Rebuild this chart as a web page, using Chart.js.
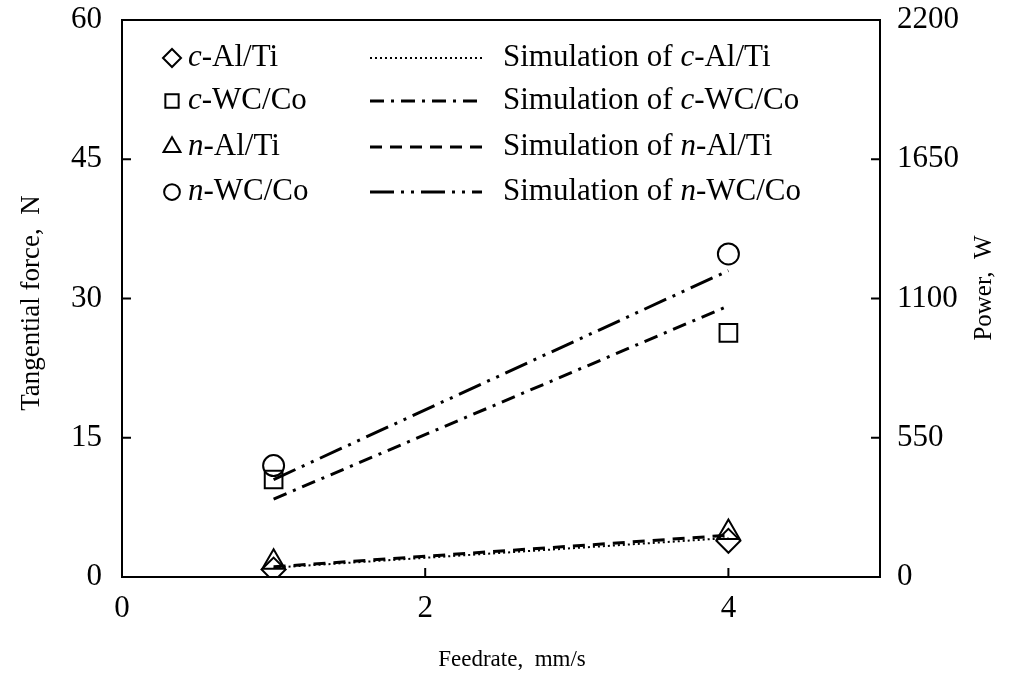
<!DOCTYPE html>
<html>
<head>
<meta charset="utf-8">
<script src="https://cdn.jsdelivr.net/npm/chart.js@4"></script>
<style>
  html, body { margin: 0; background: #fff; }
  #wrap { width: 1013px; height: 693px; }
</style>
</head>
<body>
<div id="wrap"><canvas id="chart"></canvas></div>
<script>
// Data
const feedrate = [1, 4];
const cAlTi = [0.8, 3.9];
const cWCCo = [10.5, 26.3];
const nAlTi = [1.6, 4.8];
const nWCCo = [12.0, 34.8];
const simCAlTi = [1.0, 4.2];
const simCWCCo = [8.4, 29.2];
const simNAlTi = [1.1, 4.5];
const simNWCCo = [10.5, 33.0];

const seriesNames = ['c-Al/Ti', 'c-WC/Co', 'n-Al/Ti', 'n-WC/Co'];
const xTicks = [0, 2, 4];
const forceTicks = [0, 15, 30, 45, 60];
const powerTicks = [0, 550, 1100, 1650, 2200];

const serif = "'Liberation Serif', 'Times New Roman', serif";
const markerStyles = ['rectRot', 'rect', 'triangle', 'circle'];
const markerSizes = [12, 12.5, 13, 10.5];
const simDashes = [[2, 3], [14, 7, 3, 7], [12, 8], [24, 7, 3, 7, 3, 7]];
const simWidths = [2, 3, 3, 3];

function pts(ys) {
  return feedrate.map((x, i) => ({ x: x, y: ys[i] }));
}

const measured = [cAlTi, cWCCo, nAlTi, nWCCo];
const simulated = [simCAlTi, simCWCCo, simNAlTi, simNWCCo];

const datasets = [];
simulated.forEach((s, i) => {
  datasets.push({
    label: 'Simulation of ' + seriesNames[i],
    data: pts(s),
    borderColor: '#000',
    borderWidth: simWidths[i],
    borderDash: simDashes[i],
    pointRadius: 0,
    showLine: true,
    fill: false
  });
});
measured.forEach((m, i) => {
  datasets.push({
    label: seriesNames[i],
    data: pts(m),
    showLine: false,
    pointStyle: markerStyles[i],
    pointRadius: markerSizes[i],
    pointBorderWidth: 2,
    pointBorderColor: '#000',
    pointBackgroundColor: 'rgba(0,0,0,0)'
  });
});

// frame, inward ticks, axis titles and the legend
const decorations = {
  id: 'decorations',
  afterDraw(chart) {
    const ctx = chart.ctx;
    const a = chart.chartArea;
    const sx = chart.scales.x, sy = chart.scales.y, sy2 = chart.scales.y2;
    ctx.save();
    ctx.strokeStyle = '#000';
    ctx.lineWidth = 2;
    ctx.strokeRect(a.left, a.top, a.right - a.left, a.bottom - a.top);

    ctx.beginPath();
    forceTicks.slice(1, -1).forEach(v => {
      const y = sy.getPixelForValue(v);
      ctx.moveTo(a.left, y); ctx.lineTo(a.left + 9, y);
    });
    powerTicks.slice(1, -1).forEach(v => {
      const y = sy2.getPixelForValue(v);
      ctx.moveTo(a.right, y); ctx.lineTo(a.right - 9, y);
    });
    xTicks.slice(1).forEach(v => {
      const x = sx.getPixelForValue(v);
      ctx.moveTo(x, a.bottom); ctx.lineTo(x, a.bottom - 9);
    });
    ctx.stroke();

    // axis titles
    ctx.fillStyle = '#000';
    ctx.textAlign = 'center';
    ctx.textBaseline = 'middle';
    ctx.font = '23px ' + serif;
    ctx.fillText('Feedrate,  mm/s', 512, 660);
    ctx.save();
    ctx.font = '27px ' + serif;
    ctx.translate(32, 303);
    ctx.rotate(-Math.PI / 2);
    ctx.fillText('Tangential force,  N', 0, 0);
    ctx.restore();
    ctx.save();
    ctx.font = '25px ' + serif;
    ctx.translate(984, 288);
    ctx.rotate(-Math.PI / 2);
    ctx.fillText('Power,  W', 0, 0);
    ctx.restore();

    // legend
    const rowY = [58, 101, 147, 192];
    const fs = 31;
    ctx.textAlign = 'left';
    seriesNames.forEach((name, i) => {
      const y = rowY[i];
      ctx.lineWidth = 2;
      ctx.setLineDash([]);
      ctx.fillStyle = '#fff';
      ctx.strokeStyle = '#000';
      Chart.helpers.drawPoint(ctx, {
        pointStyle: markerStyles[i],
        radius: markerSizes[i] * 0.75,
        rotation: 0,
        borderWidth: 2
      }, 172, y);
      ctx.fillStyle = '#000';

      const drawLabel = (x, pre) => {
        ctx.font = fs + 'px ' + serif;
        ctx.fillText(pre, x, y);
        x += ctx.measureText(pre).width;
        ctx.font = 'italic ' + fs + 'px ' + serif;
        ctx.fillText(name[0], x, y);
        x += ctx.measureText(name[0]).width;
        ctx.font = fs + 'px ' + serif;
        ctx.fillText(name.slice(1), x, y);
      };
      drawLabel(188, '');

      ctx.beginPath();
      ctx.lineWidth = simWidths[i];
      ctx.setLineDash(simDashes[i]);
      ctx.moveTo(370, y);
      ctx.lineTo(482, y);
      ctx.stroke();
      ctx.setLineDash([]);
      drawLabel(503, 'Simulation of ');
    });
    ctx.restore();
  }
};

const tickFont = { family: serif, size: 31 };
const plain = v => String(v);
const fitY = w => s => { s.width = w; s.paddingTop = 0; s.paddingBottom = 0; };

new Chart(document.getElementById('chart'), {
  type: 'scatter',
  data: { datasets: datasets },
  plugins: [decorations],
  options: {
    responsive: true,
    maintainAspectRatio: false,
    animation: false,
    layout: { padding: { top: 20, left: 0, right: 0, bottom: 0 } },
    plugins: {
      legend: { display: false },
      tooltip: { enabled: false }
    },
    scales: {
      x: {
        type: 'linear',
        min: 0,
        max: 5,
        afterBuildTicks: s => { s.ticks = xTicks.map(v => ({ value: v })); },
        afterFit: s => { s.height = 116; s.paddingLeft = 0; s.paddingRight = 0; },
        grid: { display: false },
        border: { display: false },
        ticks: { color: '#000', padding: 5, font: tickFont, callback: plain }
      },
      y: {
        position: 'left',
        min: 0,
        max: 60,
        afterBuildTicks: s => { s.ticks = forceTicks.map(v => ({ value: v })); },
        afterFit: fitY(122),
        grid: { display: false },
        border: { display: false },
        ticks: { color: '#000', padding: 12, font: tickFont, callback: plain }
      },
      y2: {
        position: 'right',
        min: 0,
        max: 2200,
        afterBuildTicks: s => { s.ticks = powerTicks.map(v => ({ value: v })); },
        afterFit: fitY(133),
        grid: { display: false },
        border: { display: false },
        ticks: { color: '#000', padding: 9, font: tickFont, callback: plain }
      }
    }
  }
});
</script>
</body>
</html>
